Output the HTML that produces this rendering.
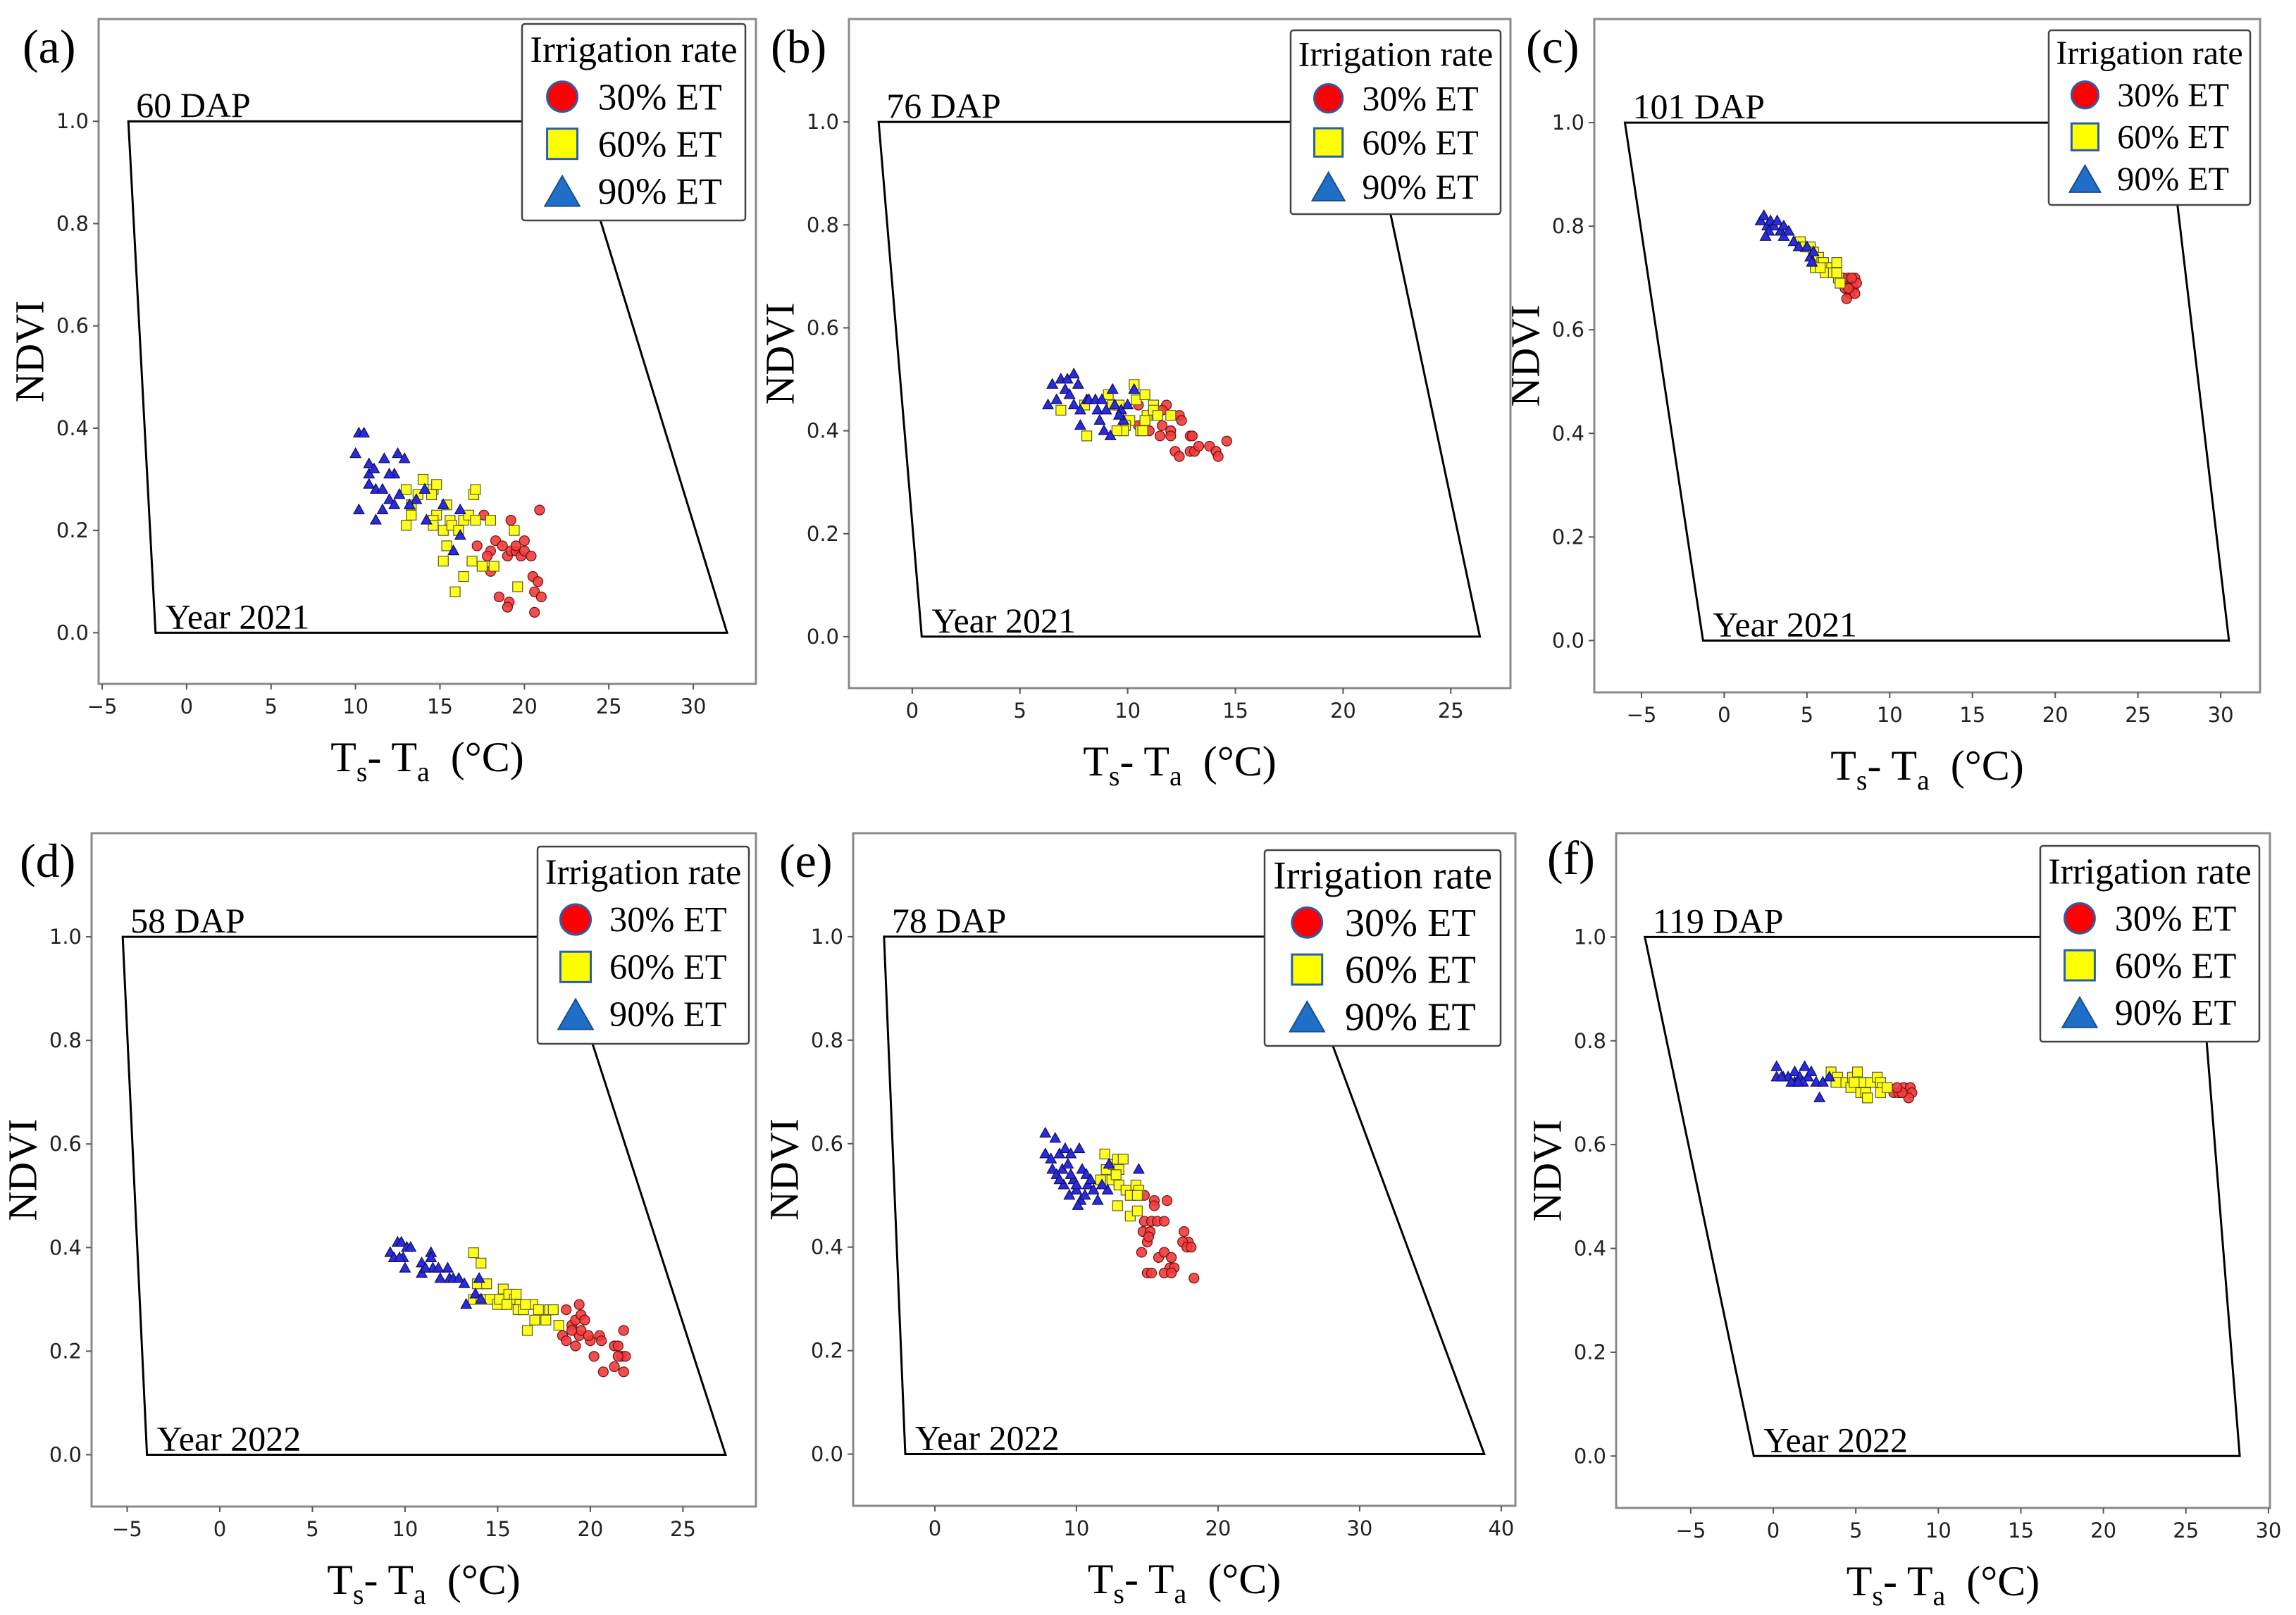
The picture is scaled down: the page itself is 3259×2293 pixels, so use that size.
<!DOCTYPE html>
<html><head><meta charset="utf-8"><style>
html,body{margin:0;padding:0;background:#fff;}
svg{display:block;}
</style></head><body>
<svg id="fig" xmlns="http://www.w3.org/2000/svg" width="3259" height="2293" viewBox="0 0 3259 2293">
<rect x="0" y="0" width="3259" height="2293" fill="#fff"/>
</svg>
<script>
// ---- data arrays (x = Ts-Ta °C, y = NDVI) ----
const panelLetters = ['(a)','(b)','(c)','(d)','(e)','(f)'];
const dapLabels = ['60 DAP','76 DAP','101 DAP','58 DAP','78 DAP','119 DAP'];
const yearLabels = ['Year 2021','Year 2021','Year 2021','Year 2022','Year 2022','Year 2022'];
const legendLabels = ['30% ET','60% ET','90% ET'];
const yTicks = [0.0,0.2,0.4,0.6,0.8,1.0];
const xTicksA = [-5,0,5,10,15,20,25,30];
const xTicksB = [0,5,10,15,20,25];
const xTicksC = [-5,0,5,10,15,20,25,30];
const xTicksD = [-5,0,5,10,15,20,25];
const xTicksE = [0,10,20,30,40];
const xTicksF = [-5,0,5,10,15,20,25,30];
// trapezoid vertices: TL, BL, BR, TR (x values); y = 1,0,0,1
const quadA = [-3.45,-1.84,32.0,22.7];
const quadB = [-1.56,0.44,26.35,21.3];
const quadC = [-6.0,-1.28,30.5,26.8];
const quadD = [-5.24,-3.93,27.3,18.25];
const quadE = [-3.59,-2.09,38.8,25.25];
const quadF = [-7.78,-1.18,28.26,25.75];

const redA = [[17.6,0.23],[19.2,0.22],[20.9,0.24],[17.2,0.17],[18,0.16],[17.8,0.15],[18,0.12],[18.3,0.18],[18.7,0.17],[19,0.15],[19.2,0.16],[19.5,0.16],[19.8,0.15],[20,0.16],[20.4,0.15],[20,0.18],[20.5,0.11],[20.8,0.10],[20.6,0.08],[21,0.07],[20.6,0.04],[18.5,0.07],[19.1,0.06],[19,0.05],[19.5,0.17]];
const yellowA = [[13,0.28],[13.3,0.25],[13.3,0.23],[13,0.21],[13.7,0.27],[14,0.30],[14.6,0.28],[14.8,0.29],[15.4,0.25],[14.8,0.23],[14.6,0.22],[15.2,0.20],[15.6,0.22],[15.7,0.21],[16.1,0.20],[16.4,0.22],[16.7,0.23],[17,0.27],[17.1,0.28],[17.1,0.22],[18,0.22],[15.4,0.17],[15.2,0.14],[16.9,0.14],[17.5,0.13],[18.2,0.13],[19.4,0.20],[16.4,0.11],[15.9,0.08],[19.6,0.09],[14.5,0.27],[14.6,0.21]];
const blueA = [[10.2,0.39],[10.5,0.39],[10,0.35],[10.8,0.33],[10.8,0.31],[11.1,0.32],[11.7,0.34],[12.5,0.35],[12.9,0.34],[12.3,0.31],[12.0,0.31],[10.8,0.29],[11.2,0.28],[11.6,0.28],[12.0,0.26],[12.3,0.25],[12.6,0.27],[13.6,0.26],[14.1,0.28],[10.2,0.24],[11.2,0.22],[11.6,0.24],[14.2,0.22],[15.2,0.25],[16.2,0.24],[16.2,0.19],[15.8,0.16],[13.2,0.25]];

const redB = [[10.5,0.45],[11.8,0.45],[11.6,0.44],[12.4,0.43],[12.5,0.42],[10.7,0.41],[11,0.40],[11.5,0.39],[11.6,0.41],[12,0.40],[12,0.39],[12.2,0.36],[12.4,0.35],[12.9,0.39],[13,0.39],[12.9,0.36],[13.1,0.36],[13.3,0.37],[13.8,0.37],[14.1,0.36],[14.2,0.35],[14.6,0.38],[10.5,0.41]];
const yellowB = [[6.9,0.44],[8.1,0.39],[8.0,0.45],[9.1,0.47],[9.3,0.45],[10.3,0.49],[10.4,0.46],[10.8,0.47],[10.9,0.43],[11.2,0.45],[11.2,0.44],[11.4,0.43],[12.0,0.43],[10.1,0.42],[9.9,0.41],[9.8,0.40],[10.6,0.40],[10.8,0.42],[9.5,0.40],[9.6,0.45],[10.7,0.40]];
const blueB = [[6.3,0.45],[6.5,0.49],[6.7,0.46],[6.9,0.50],[7.1,0.48],[7.2,0.50],[7.5,0.51],[7.3,0.47],[7.7,0.49],[7.5,0.45],[7.8,0.44],[8.1,0.46],[8.2,0.46],[7.8,0.41],[8.6,0.44],[8.5,0.46],[8.7,0.42],[8.9,0.40],[9.0,0.44],[9.3,0.48],[9.2,0.39],[9.4,0.45],[9.7,0.44],[10.3,0.48],[10.0,0.45],[9.8,0.42],[8.8,0.46],[9.6,0.43]];

const redC = [[6.6,0.71],[7.0,0.69],[7.3,0.68],[7.5,0.70],[7.7,0.69],[7.8,0.68],[7.9,0.70],[8.0,0.69],[7.6,0.67],[7.4,0.66],[7.9,0.67],[7.2,0.70],[7.7,0.70],[7.5,0.68]];
const yellowC = [[4.6,0.77],[4.9,0.76],[5.2,0.76],[5.4,0.75],[5.7,0.74],[5.9,0.73],[5.5,0.72],[6.0,0.73],[6.3,0.72],[6.5,0.72],[6.8,0.73],[6.1,0.71],[6.6,0.71],[6.9,0.70],[7.0,0.69],[6.8,0.71],[5.8,0.72]];
const blueC = [[2.2,0.81],[2.4,0.82],[2.6,0.80],[2.8,0.81],[3.0,0.80],[2.7,0.79],[3.2,0.81],[3.4,0.79],[3.6,0.80],[3.6,0.78],[3.9,0.79],[4.2,0.77],[4.5,0.76],[5.0,0.76],[5.2,0.74],[5.3,0.73],[2.5,0.78],[5.4,0.75]];

const redD = [[18.5,0.23],[18.7,0.28],[19,0.25],[19.2,0.26],[19.4,0.29],[19.5,0.27],[19.7,0.26],[19.2,0.21],[18.7,0.22],[19.4,0.23],[19.5,0.24],[20,0.22],[19.9,0.23],[20.5,0.23],[20.6,0.22],[20.2,0.19],[20.7,0.16],[21.3,0.21],[21.5,0.21],[21.8,0.24],[21.7,0.19],[21.9,0.19],[21.3,0.17],[21.8,0.16],[21.5,0.19],[19.0,0.24]];
const yellowD = [[13.7,0.39],[14.1,0.37],[13.9,0.33],[14.4,0.33],[13.7,0.30],[14.1,0.30],[14.6,0.30],[15,0.29],[15.1,0.30],[15.3,0.32],[15.6,0.31],[15.9,0.30],[16,0.31],[16.2,0.29],[16.1,0.28],[16.4,0.28],[16.9,0.29],[17.2,0.28],[17.8,0.28],[18,0.28],[18.3,0.25],[17,0.26],[16.6,0.24],[15.5,0.29],[17.6,0.26],[16.5,0.29]];
const blueD = [[9.2,0.39],[9.4,0.38],[9.6,0.41],[9.8,0.41],[10.1,0.40],[10.3,0.40],[9.9,0.38],[10.0,0.36],[9.7,0.38],[10.9,0.37],[10.9,0.35],[11.4,0.39],[11.4,0.38],[11.5,0.36],[11.8,0.36],[11.9,0.34],[12.3,0.36],[12.4,0.34],[12.6,0.34],[12.9,0.34],[13.2,0.33],[13.3,0.29],[13.8,0.31],[14,0.34],[14.1,0.30],[11.1,0.36]];

const redE = [[14.8,0.50],[15.5,0.49],[15.5,0.48],[16.4,0.49],[14.8,0.45],[15.3,0.45],[15.7,0.45],[16.2,0.45],[14.7,0.43],[15.2,0.43],[15.0,0.41],[14.6,0.39],[17.6,0.43],[17.9,0.41],[17.5,0.41],[17.8,0.40],[18.1,0.40],[15.8,0.38],[16.2,0.39],[16.7,0.38],[16.6,0.36],[16.9,0.36],[16.2,0.35],[16.7,0.35],[15.0,0.35],[15.3,0.35],[18.3,0.34],[15.1,0.42]];
const yellowE = [[12.0,0.58],[12.1,0.55],[12.6,0.56],[12.9,0.57],[13.3,0.57],[13.0,0.55],[12.5,0.53],[13.0,0.52],[13.5,0.51],[13.8,0.50],[14.2,0.52],[14.4,0.51],[14.3,0.50],[12.9,0.48],[13.8,0.46],[14.3,0.47],[11.7,0.53],[12.8,0.54]];
const blueE = [[7.8,0.62],[7.8,0.58],[8.5,0.61],[8.2,0.57],[8.8,0.58],[9.2,0.59],[9.6,0.58],[10.2,0.59],[8.3,0.55],[8.6,0.54],[9.0,0.55],[9.4,0.56],[9.8,0.53],[9.1,0.52],[8.8,0.53],[9.5,0.50],[10.0,0.51],[10.3,0.49],[10.1,0.48],[10.6,0.50],[10.8,0.52],[11.2,0.51],[11.5,0.49],[10.4,0.55],[10.7,0.54],[11.0,0.53],[12.2,0.51],[12.3,0.56],[14.4,0.55],[9.6,0.54],[10.0,0.52],[11.8,0.52]];

const redF = [[7.0,0.71],[7.3,0.70],[7.6,0.70],[7.9,0.71],[8.3,0.71],[8.4,0.70],[8.2,0.69],[7.8,0.70],[7.5,0.71]];
const yellowF = [[3.5,0.74],[3.9,0.73],[3.8,0.72],[4.4,0.72],[4.8,0.73],[5.1,0.74],[5.4,0.72],[4.7,0.71],[5.3,0.70],[5.6,0.70],[5.9,0.72],[6.3,0.73],[6.5,0.72],[6.6,0.71],[5.7,0.69],[6.5,0.70],[6.9,0.71],[4.9,0.72]];
const blueF = [[0.2,0.75],[0.2,0.73],[0.6,0.73],[0.9,0.73],[1.3,0.74],[1.3,0.72],[1.6,0.73],[1.9,0.75],[2.1,0.73],[2.3,0.74],[1.1,0.72],[1.8,0.72],[2.6,0.72],[3.0,0.72],[3.4,0.73],[2.8,0.69],[0.5,0.73],[1.5,0.72]];

// ---- layout (pixel boxes and axis limits) ----
const layouts = [
 {l:140,t:27,r:1073,b:971,x0:-5.21,x1:33.71,leg:[741,34,317,279],lx:32,ly:89},
 {l:1205,t:27,r:2144,b:977,x0:-2.94,x1:27.77,leg:[1832,43,298,261],lx:1094,ly:89},
 {l:2263,t:27,r:3208,b:983,x0:-7.85,x1:32.38,leg:[2908,43,286,248],lx:2166,ly:89},
 {l:130,t:1183,r:1073,b:2139,x0:-6.92,x1:28.94,leg:[763,1202,300,280],lx:28,ly:1245},
 {l:1211,t:1183,r:2151,b:2138,x0:-5.77,x1:41.0,leg:[1795,1207,335,278],lx:1106,ly:1245},
 {l:2294,t:1183,r:3222,b:2141,x0:-9.52,x1:30.09,leg:[2896,1201,311,278],lx:2196,ly:1241}
];
const xTicksAll=[xTicksA,xTicksB,xTicksC,xTicksD,xTicksE,xTicksF];
const quads=[quadA,quadB,quadC,quadD,quadE,quadF];
const reds=[redA,redB,redC,redD,redE,redF];
const yellows=[yellowA,yellowB,yellowC,yellowD,yellowE,yellowF];
const blues=[blueA,blueB,blueC,blueD,blueE,blueF];
const Y0=-0.1, Y1=1.2;

const NS='http://www.w3.org/2000/svg';
const svg=document.getElementById('fig');
function mk(tag,attrs,parent){const e=document.createElementNS(NS,tag);for(const k in attrs)e.setAttribute(k,attrs[k]);(parent||svg).appendChild(e);return e;}
const SERIF='"Liberation Serif", "DejaVu Serif", serif';
const SANS='"DejaVu Sans", "Liberation Sans", sans-serif';

function tri(cx,cy,s){const h=s*0.9;return `${cx},${cy-h*0.6} ${cx-s/2},${cy+h*0.4} ${cx+s/2},${cy+h*0.4}`;}

layouts.forEach((L,i)=>{
  const g=mk('g',{});
  
  
  const sx=v=>L.l+(v-L.x0)/(L.x1-L.x0)*(L.r-L.l);
  const sy=v=>L.b-(v-Y0)/(Y1-Y0)*(L.b-L.t);
  const pl=mk('text',{x:L.lx,y:L.ly,'font-family':SERIF,'font-size':68,fill:'#000'},g);
  pl.textContent=panelLetters[i];
  
  
  const fr=mk('rect',{x:L.l,y:L.t,width:L.r-L.l,height:L.b-L.t,fill:'none',stroke:'#8a8a8a','stroke-width':3},g);
  
  
  yTicks.forEach(v=>{
    const y=sy(v);
    mk('line',{x1:L.l-8,x2:L.l,y1:y,y2:y,stroke:'#555','stroke-width':2},g);
    const t=mk('text',{x:L.l-14,y:y+10,'text-anchor':'end','font-family':SANS,'font-size':29,fill:'#222'},g);
    t.textContent=v.toFixed(1);
    
    
  });
  xTicksAll[i].forEach(v=>{
    const x=sx(v);
    mk('line',{x1:x,x2:x,y1:L.b,y2:L.b+8,stroke:'#555','stroke-width':2},g);
    const t=mk('text',{x:x,y:L.b+42,'text-anchor':'middle','font-family':SANS,'font-size':29,fill:'#222'},g);
    t.textContent=(v<0?'\u2212'+(-v):String(v));
    
    
  });
  const cy=(L.t+L.b)/2, cx=(L.l+L.r)/2;
  const yt=mk('text',{x:L.l-92,y:cy,'text-anchor':'middle','font-family':SERIF,'font-size':58,fill:'#000',transform:`rotate(-90 ${L.l-92} ${cy})`,'dominant-baseline':'middle'},g);
  yt.textContent='NDVI';
  
  
  const xt=mk('text',{x:cx,y:L.b+124,'text-anchor':'middle','font-family':SERIF,'font-size':60,fill:'#000'},g);
  
  
  xt.innerHTML='T<tspan font-size="40" dy="14">s</tspan><tspan dy="-14">- T</tspan><tspan font-size="40" dy="14">a</tspan><tspan dy="-14">\u00a0 (\u00b0C)</tspan>';
  const q=quads[i];
  const pg=mk('polygon',{points:`${sx(q[0])},${sy(1)} ${sx(q[1])},${sy(0)} ${sx(q[2])},${sy(0)} ${sx(q[3])},${sy(1)}`,fill:'none',stroke:'#000','stroke-width':3},g);
  
  
  const dl=mk('text',{x:sx(q[0])+11,y:sy(1)-6,'font-family':SERIF,'font-size':50,fill:'#000'},g);
  dl.textContent=dapLabels[i];
  
  
  const yl=mk('text',{x:sx(q[1])+14,y:sy(0)-6,'font-family':SERIF,'font-size':50,fill:'#000'},g);
  yl.textContent=yearLabels[i];
  
  
  reds[i].forEach(p=>{
    const c=mk('circle',{cx:sx(p[0]),cy:sy(p[1]),r:7,fill:'#f23a3a','fill-opacity':0.9,stroke:'#6a1010','stroke-width':1.2},g);
    
    
  });
  yellows[i].forEach(p=>{
    const s=mk('rect',{x:sx(p[0])-7,y:sy(p[1])-7,width:14,height:14,fill:'#ffff1a',stroke:'#5a5a20','stroke-width':1.2},g);
    
    
  });
  blues[i].forEach(p=>{
    const t=mk('polygon',{points:tri(sx(p[0]),sy(p[1]),15),fill:'#2a2adf',stroke:'#10105a','stroke-width':1.2},g);
    
    
  });
  const [lx,ly,lw,lh]=L.leg;
  const lg=mk('g',{},g);
  
  
  mk('rect',{x:lx,y:ly,width:lw,height:lh,rx:4,fill:'#fff',stroke:'#444','stroke-width':2.5},lg);
  const fs=lw*0.168;
  const tt=mk('text',{x:lx+lw/2,y:ly+lh*0.13+fs*0.33,'text-anchor':'middle','font-family':SERIF,'font-size':fs,fill:'#000'},lg);
  tt.textContent='Irrigation rate';
  
  
  const rows=[0.37,0.61,0.85];
  const mr=lh*0.077;
  rows.forEach((f,k)=>{
    const my=ly+lh*f, mx=lx+lw*0.18;
    let m;
    if(k===0) m=mk('circle',{cx:mx,cy:my,r:mr,fill:'#ff0000',stroke:'#2a5db0','stroke-width':3},lg);
    else if(k===1) m=mk('rect',{x:mx-mr,y:my-mr,width:2*mr,height:2*mr,fill:'#ffff00',stroke:'#2a5db0','stroke-width':3},lg);
    else m=mk('polygon',{points:`${mx},${my-mr} ${mx-mr*1.15},${my+mr} ${mx+mr*1.15},${my+mr}`,fill:'#1f6fc8',stroke:'#1a4f90','stroke-width':2},lg);
    
    
    const te=mk('text',{x:lx+lw*0.34,y:my+fs*0.34,'font-family':SERIF,'font-size':fs,fill:'#000'},lg);
    te.textContent=legendLabels[k];
    
    
  });
});
</script>
</body></html>
